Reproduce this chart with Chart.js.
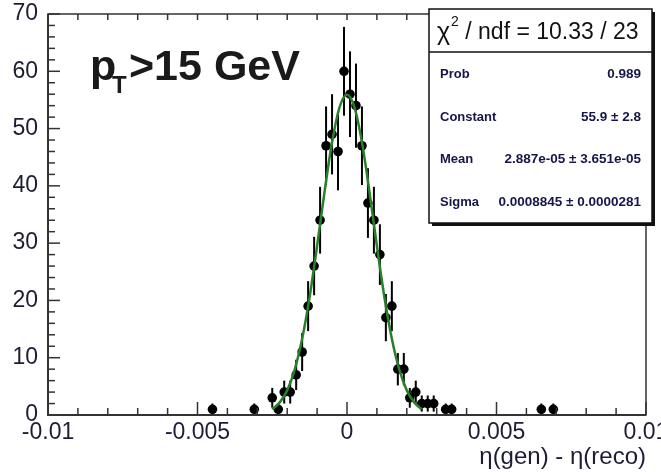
<!DOCTYPE html>
<html>
<head>
<meta charset="utf-8">
<script src="https://cdn.jsdelivr.net/npm/chart.js@4.4.1/dist/chart.umd.min.js"></script>
<style>
  html, body { margin: 0; padding: 0; background: #fff; }
</style>
</head>
<body>
<canvas id="c" width="661" height="472"></canvas>
<script>
// histogram bins (centre, entries, error)
const binX = [-0.0045, -0.0031, -0.0025, -0.0023, -0.0021, -0.0019, -0.0017, -0.0015, -0.0013, -0.0011,
              -0.0009, -0.0007, -0.0005, -0.0003, -0.0001, 0.0001, 0.0003, 0.0005, 0.0007, 0.0009,
              0.0011, 0.0013, 0.0015, 0.0017, 0.0019, 0.0021, 0.0023, 0.0025, 0.0027, 0.0029,
              0.0033, 0.0035, 0.0065, 0.0069];
const counts = [1, 1, 3, 1, 4, 4, 7, 11, 19, 26,
                34, 47, 49, 46, 60, 56, 54, 47, 37, 34,
                28, 17, 19, 8, 8, 3, 4, 2, 2, 2,
                1, 1, 1, 1];
const errs = [1, 1, 1.73, 1, 2, 2, 2.65, 3.32, 4.36, 5.1,
              5.83, 6.86, 7, 6.78, 7.75, 7.48, 7.35, 6.86, 6.08, 5.83,
              5.29, 4.12, 4.36, 2.83, 2.83, 1.73, 2, 1.41, 1.41, 1.41,
              1, 1, 1, 1];

// gaussian fit curve, sampled along the green line
const fitX = [-0.0025, -0.00225, -0.002, -0.00175, -0.0015, -0.00125, -0.001, -0.00075, -0.0005, -0.00025, 0,
              0.00025, 0.0005, 0.00075, 0.001, 0.00125, 0.0015, 0.00175, 0.002, 0.00225, 0.0025];
const fitY = [1.0, 2.2, 4.3, 7.9, 13.3, 20.6, 29.5, 39.0, 47.6, 53.7, 55.9,
              53.7, 47.6, 39.0, 29.5, 20.6, 13.3, 7.9, 4.3, 2.2, 1.0];

const xTicks = [-0.01, -0.005, 0, 0.005, 0.01];
const yTicks = [0, 10, 20, 30, 40, 50, 60, 70];

const fitHeader = ['χ', '2', ' / ndf = 10.33 / 23'];
const statRows = [
  ['Prob', '0.989'],
  ['Constant', '55.9 ± 2.8'],
  ['Mean', '2.887e-05 ± 3.651e-05'],
  ['Sigma', '0.0008845 ± 0.0000281']
];

const FONT = "'Liberation Sans', Arial, sans-serif";
const INK = '#1c1c34';

// error bars, inner tick marks and frame (ROOT style)
const rootFrame = {
  id: 'rootFrame',
  beforeDatasetsDraw(chart) {
    const { ctx, scales: { x, y } } = chart;
    ctx.save();
    ctx.strokeStyle = '#000';
    ctx.lineWidth = 2;
    binX.forEach((bx, i) => {
      const px = x.getPixelForValue(bx);
      const lo = Math.max(0, counts[i] - errs[i]);
      ctx.beginPath();
      ctx.moveTo(px, y.getPixelForValue(lo));
      ctx.lineTo(px, y.getPixelForValue(counts[i] + errs[i]));
      ctx.stroke();
    });
    ctx.restore();
  },
  afterDraw(chart) {
    const { ctx, chartArea: a, scales: { x, y } } = chart;
    ctx.save();
    ctx.strokeStyle = '#333';
    ctx.lineWidth = 1.5;
    ctx.strokeRect(a.left, a.top, a.right - a.left, a.bottom - a.top);
    for (let k = -10; k <= 10; k++) {
      const px = x.getPixelForValue(k * 0.001);
      const len = k % 5 === 0 ? 13 : 7;
      ctx.beginPath();
      ctx.moveTo(px, a.bottom); ctx.lineTo(px, a.bottom - len);
      ctx.moveTo(px, a.top); ctx.lineTo(px, a.top + 6);
      ctx.stroke();
    }
    for (let v = 0; v <= 70; v += 2) {
      const py = y.getPixelForValue(v);
      const len = v % 10 === 0 ? 12 : 7;
      ctx.beginPath();
      ctx.moveTo(a.left, py); ctx.lineTo(a.left + len, py);
      ctx.stroke();
    }
    ctx.lineWidth = 2;
    ctx.beginPath();
    ctx.moveTo(a.left, a.top); ctx.lineTo(a.left, a.bottom); ctx.lineTo(a.right, a.bottom);
    ctx.stroke();

    // label p_T > 15 GeV
    ctx.fillStyle = '#1a1a1a';
    ctx.textBaseline = 'alphabetic';
    ctx.textAlign = 'left';
    ctx.font = 'bold 43px ' + FONT;
    ctx.fillText('p', 90, 80);
    ctx.font = 'bold 24px ' + FONT;
    ctx.fillText('T', 112, 93);
    ctx.font = 'bold 43px ' + FONT;
    ctx.fillText('>15 GeV', 129, 80);

    // stats box
    const bx = 429, by = 9, bw = 223, bh = 214;
    ctx.fillStyle = '#111';
    ctx.fillRect(bx + 3, by + 3, bw, bh);
    ctx.fillStyle = '#fff';
    ctx.fillRect(bx, by, bw, bh);
    ctx.strokeStyle = '#111';
    ctx.lineWidth = 1.5;
    ctx.strokeRect(bx, by, bw, bh);
    ctx.beginPath();
    ctx.moveTo(bx, 52); ctx.lineTo(bx + bw, 52);
    ctx.stroke();

    ctx.fillStyle = '#111';
    ctx.font = '25px ' + FONT;
    let tx = 437;
    ctx.fillText(fitHeader[0], tx, 40);
    tx += ctx.measureText(fitHeader[0]).width + 1;
    ctx.font = '14px ' + FONT;
    ctx.fillText(fitHeader[1], tx, 26);
    tx += ctx.measureText(fitHeader[1]).width;
    ctx.font = '23px ' + FONT;
    ctx.fillText(fitHeader[2], tx, 39);

    ctx.fillStyle = '#15154a';
    ctx.textBaseline = 'middle';
    const rowY = [74, 117, 159, 202];
    statRows.forEach((r, i) => {
      ctx.font = 'bold 13px ' + FONT;
      ctx.textAlign = 'left';
      ctx.fillText(r[0], 440, rowY[i]);
      ctx.font = 'bold 13.5px ' + FONT;
      ctx.textAlign = 'right';
      ctx.fillText(r[1], 641, rowY[i]);
    });
    ctx.restore();
  }
};

new Chart(document.getElementById('c'), {
  type: 'scatter',
  data: {
    datasets: [
      {
        type: 'line',
        data: fitX.map((v, i) => ({ x: v, y: fitY[i] })),
        borderColor: '#2a7f2a',
        borderWidth: 2.5,
        pointRadius: 0,
        cubicInterpolationMode: 'monotone',
        fill: false,
        order: 0
      },
      {
        data: binX.map((v, i) => ({ x: v, y: counts[i] })),
        backgroundColor: '#000',
        borderWidth: 0,
        pointRadius: 4.8,
        order: 1
      }
    ]
  },
  options: {
    responsive: false,
    animation: false,
    devicePixelRatio: 1,
    layout: { padding: { top: 14, right: 15, left: 0, bottom: 0 } },
    plugins: { legend: { display: false }, tooltip: { enabled: false } },
    scales: {
      x: {
        type: 'linear', min: -0.01, max: 0.01,
        afterBuildTicks: s => { s.ticks = xTicks.map(v => ({ value: v })); },
        afterFit: s => { s.height = 57; s.paddingLeft = 0; s.paddingRight = 0; },
        grid: { display: false }, border: { display: false },
        ticks: {
          autoSkip: false, maxRotation: 0, padding: -4, color: INK,
          font: { family: FONT, size: 23 },
          callback: v => v === 0 ? '0' : String(v)
        },
        title: {
          display: true, text: 'η(gen) - η(reco)', align: 'end', color: INK,
          font: { family: FONT, size: 24 }, padding: { top: 0, bottom: 0 }
        }
      },
      y: {
        min: 0, max: 70,
        afterBuildTicks: s => { s.ticks = yTicks.map(v => ({ value: v })); },
        afterFit: s => { s.width = 48; s.paddingTop = 0; s.paddingBottom = 0; },
        grid: { display: false }, border: { display: false },
        ticks: { padding: 2, color: INK, font: { family: FONT, size: 23 } }
      }
    }
  },
  plugins: [rootFrame]
});
</script>
</body>
</html>
